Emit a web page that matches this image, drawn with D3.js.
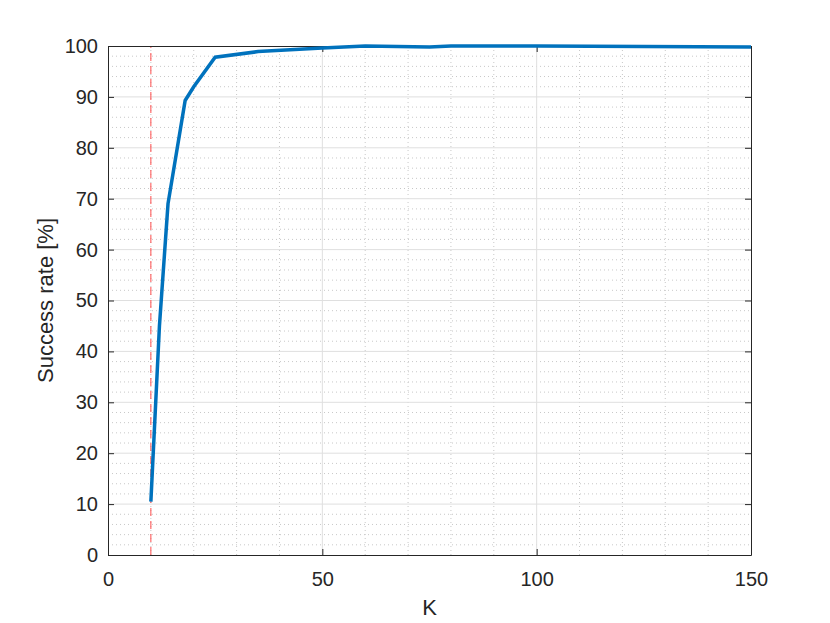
<!DOCTYPE html>
<html>
<head>
<meta charset="utf-8">
<script src="https://cdn.jsdelivr.net/npm/d3@7"></script>
<style>
	body { margin: 0; background: #fff; }
	text { font-family: "Liberation Sans", Arial, sans-serif; }
</style>
</head>
<body>
<script>
// data
var kValues = [10, 12, 14, 18, 20, 25, 35, 50, 60, 75, 80, 100, 150];
var successRate = [10.5, 45, 69, 89.3, 92, 97.8, 98.9, 99.6, 100, 99.8, 100, 100, 99.8];
var thresholdK = 10;
var xTicks = [0, 50, 100, 150];
var yTicks = [0, 10, 20, 30, 40, 50, 60, 70, 80, 90, 100];

var width = 830, height = 623;
var margin = {left: 108, right: 79, top: 46, bottom: 68};

var svg = d3.select("body").append("svg")
	.attr("width", width).attr("height", height);

var x = d3.scaleLinear().domain([0, 150]).range([margin.left, width - margin.right]);
var y = d3.scaleLinear().domain([0, 100]).range([height - margin.bottom, margin.top]);

var g = svg.append("g");

// minor grid
g.selectAll(".xminor").data(d3.range(0, 151, 10).filter(function(d){ return d % 50 != 0; }))
	.enter().append("line")
	.attr("x1", function(d){ return x(d); }).attr("x2", function(d){ return x(d); })
	.attr("y1", y(0)).attr("y2", y(100))
	.style("stroke", "#c8c8c8").style("stroke-width", 1).style("stroke-dasharray", "1,3");
g.selectAll(".yminor").data(d3.range(0, 101, 2).filter(function(d){ return d % 10 != 0; }))
	.enter().append("line")
	.attr("x1", x(0)).attr("x2", x(150))
	.attr("y1", function(d){ return y(d); }).attr("y2", function(d){ return y(d); })
	.style("stroke", "#c8c8c8").style("stroke-width", 1).style("stroke-dasharray", "1,3");

// major grid
g.selectAll(".xmajor").data(xTicks.slice(1, -1)).enter().append("line")
	.attr("x1", function(d){ return x(d); }).attr("x2", function(d){ return x(d); })
	.attr("y1", y(0)).attr("y2", y(100))
	.style("stroke", "#dfdfdf").style("stroke-width", 1);
g.selectAll(".ymajor").data(yTicks.slice(1, -1)).enter().append("line")
	.attr("x1", x(0)).attr("x2", x(150))
	.attr("y1", function(d){ return y(d); }).attr("y2", function(d){ return y(d); })
	.style("stroke", "#dfdfdf").style("stroke-width", 1);

// threshold line
g.append("line")
	.attr("x1", x(thresholdK)).attr("x2", x(thresholdK))
	.attr("y1", y(0)).attr("y2", y(100))
	.style("stroke", "#ff4d4d").style("stroke-width", 1).style("stroke-dasharray", "8,5");

// axes
var axisColor = "#262626";
var xAxis = svg.append("g").attr("transform", "translate(0," + y(0) + ")")
	.call(d3.axisBottom(x).tickValues(xTicks).tickSizeInner(-6).tickSizeOuter(0).tickPadding(17));
var yAxis = svg.append("g").attr("transform", "translate(" + x(0) + ",0)")
	.call(d3.axisLeft(y).tickValues(yTicks).tickSizeInner(-6).tickSizeOuter(0).tickPadding(10));
svg.append("g").attr("transform", "translate(0," + y(100) + ")")
	.call(d3.axisTop(x).tickValues(xTicks).tickSizeInner(-6).tickSizeOuter(0).tickFormat(""));
svg.append("g").attr("transform", "translate(" + x(150) + ",0)")
	.call(d3.axisRight(y).tickValues(yTicks).tickSizeInner(-6).tickSizeOuter(0).tickFormat(""));

svg.selectAll(".domain").style("stroke", axisColor).style("stroke-width", 1);
svg.selectAll(".tick line").style("stroke", axisColor);
svg.selectAll(".tick text").style("font-size", "20px").style("fill", axisColor)
	.style("font-family", "'Liberation Sans', Arial, sans-serif");

// data line
var line = d3.line()
	.x(function(d, i){ return x(kValues[i]); })
	.y(function(d){ return y(d); });
svg.append("path").datum(successRate)
	.attr("d", line)
	.style("fill", "none").style("stroke", "#0072BD").style("stroke-width", 3.5)
	.style("stroke-linejoin", "miter");

// labels
svg.append("text").attr("x", x(75)).attr("y", 615)
	.attr("text-anchor", "middle").style("font-size", "22px").style("fill", axisColor)
	.text("K");
svg.append("text").attr("transform", "translate(53," + y(50) + ") rotate(-90)")
	.attr("text-anchor", "middle").style("font-size", "22px").style("fill", axisColor)
	.text("Success rate [%]");
</script>
</body>
</html>
